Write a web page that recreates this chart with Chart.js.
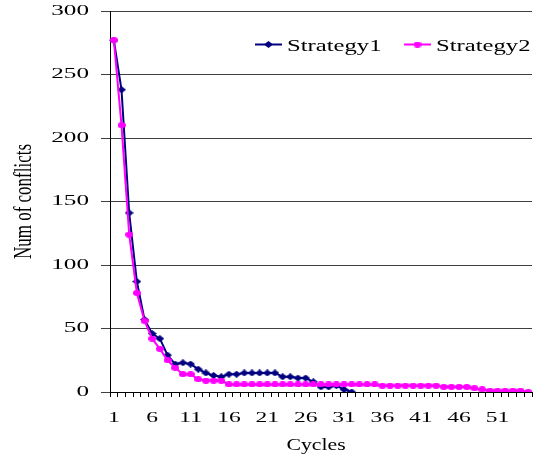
<!DOCTYPE html>
<html>
<head>
<meta charset="utf-8">
<script src="https://cdn.jsdelivr.net/npm/chart.js@4.4.1/dist/chart.umd.min.js"></script>
<style>
  html, body { margin: 0; padding: 0; background: #fff; }
  #wrap { width: 545px; height: 458px; }
</style>
</head>
<body>
<div id="wrap"><canvas id="chart"></canvas></div>
<script>
// x categories (cycles)
const cycles = ['1','2','3','4','5','6','7','8','9','10','11','12','13','14','15','16','17','18','19','20',
  '21','22','23','24','25','26','27','28','29','30','31','32','33','34','35','36','37','38','39','40',
  '41','42','43','44','45','46','47','48','49','50','51','52','53','54','55'];

// Num of conflicts per cycle
const strategy1 = [277, 238, 141, 87, 57, 46, 42, 29, 22, 23, 22, 18, 15, 13, 12, 14, 14, 15, 15, 15,
  15, 15, 12, 12, 11, 11, 8, 4, 4, 5, 2, 0];
const strategy2 = [277, 210, 124, 78, 56, 42, 34, 25, 19, 14, 14, 10, 9, 9, 9, 6, 6, 6, 6, 6,
  6, 6, 6, 6, 6, 6, 6, 6, 6, 6, 6, 6, 6, 6, 6, 5, 5, 5, 5, 5,
  5, 5, 5, 4, 4, 4, 4, 3, 2, 1, 1, 1, 1, 1, 0];

const yTicks = [0, 50, 100, 150, 200, 250, 300];

const serif = "'Liberation Serif', 'Times New Roman', serif";
const navy = '#000080';
const magenta = '#FF00FF';

// the source picture is stretched sideways, so markers are flat ovals / diamonds
function ovalMarker(w, h, color) {
  const c = document.createElement('canvas');
  c.width = w; c.height = h;
  const g = c.getContext('2d');
  g.fillStyle = color;
  g.beginPath();
  g.ellipse(w / 2, h / 2, w / 2, h / 2, 0, 0, Math.PI * 2);
  g.fill();
  return c;
}
function diamondMarker(w, h, color) {
  const c = document.createElement('canvas');
  c.width = w; c.height = h;
  const g = c.getContext('2d');
  g.fillStyle = color;
  g.beginPath();
  g.moveTo(w / 2, 0);
  g.lineTo(w, h / 2);
  g.lineTo(w / 2, h);
  g.lineTo(0, h / 2);
  g.closePath();
  g.fill();
  return c;
}
const navyMark = diamondMarker(9, 7, navy);
const pinkMark = ovalMarker(8, 6, magenta);

// stretched text: every fillText gets scaled around its anchor point
function stretchText(ctx) {
  const orig = ctx.fillText;
  ctx.textScaleX = 1;
  ctx.textScaleY = 1;
  ctx.fillText = function (text, x, y) {
    const sx = this.textScaleX, sy = this.textScaleY;
    if (sx === 1 && sy === 1) return orig.call(this, text, x, y);
    this.save();
    this.translate(x, y);
    this.scale(sx, sy);
    orig.call(this, text, 0, 0);
    this.restore();
  };
}

const stretchPlugin = {
  id: 'stretch',
  beforeInit(chart) { stretchText(chart.ctx); },
  beforeDraw(chart) {
    chart.ctx.textScaleX = 1.68;
    chart.ctx.textScaleY = 1;
  }
};

// axis titles + legend inside the plot
const decorPlugin = {
  id: 'decor',
  afterDraw(chart) {
    const ctx = chart.ctx;
    const area = chart.chartArea;

    // y title (rotated, thickened across)
    ctx.save();
    ctx.textScaleX = 1;
    ctx.textScaleY = 1.5;
    ctx.fillStyle = '#000';
    ctx.font = '17px ' + serif;
    ctx.textAlign = 'center';
    ctx.textBaseline = 'middle';
    ctx.translate(24, (area.top + area.bottom) / 2);
    ctx.rotate(-Math.PI / 2);
    ctx.fillText('Num of conflicts', 0, 0);
    ctx.restore();

    // x title
    ctx.save();
    ctx.textScaleX = 1.28;
    ctx.textScaleY = 1;
    ctx.fillStyle = '#000';
    ctx.font = '17px ' + serif;
    ctx.textAlign = 'center';
    ctx.textBaseline = 'middle';
    ctx.fillText('Cycles', 316, 446);
    ctx.restore();

    // legend
    const items = [
      { ds: chart.data.datasets[0], x: 255 },
      { ds: chart.data.datasets[1], x: 404 }
    ];
    items.forEach(it => {
      const mark = it.ds.pointStyle;
      ctx.save();
      ctx.strokeStyle = it.ds.borderColor;
      ctx.lineWidth = 2;
      ctx.beginPath();
      ctx.moveTo(it.x, 44.5);
      ctx.lineTo(it.x + 27, 44.5);
      ctx.stroke();
      ctx.drawImage(mark, it.x + 13.5 - mark.width / 2, 44.5 - mark.height / 2);

      ctx.textScaleX = 1.45;
      ctx.textScaleY = 1;
      ctx.fillStyle = '#000';
      ctx.font = '17px ' + serif;
      ctx.textAlign = 'left';
      ctx.textBaseline = 'alphabetic';
      ctx.fillText(it.ds.label, it.x + 32, 51);
      ctx.restore();
    });
    ctx.textScaleX = 1;
    ctx.textScaleY = 1;
  }
};

new Chart(document.getElementById('chart'), {
  type: 'line',
  data: {
    labels: cycles,
    datasets: [
      {
        label: 'Strategy1',
        data: strategy1,
        borderColor: navy,
        backgroundColor: navy,
        borderWidth: 2,
        pointStyle: navyMark,
        pointRadius: 4,
        tension: 0,
        order: 1
      },
      {
        label: 'Strategy2',
        data: strategy2,
        borderColor: magenta,
        backgroundColor: magenta,
        borderWidth: 2,
        pointStyle: pinkMark,
        pointRadius: 4,
        tension: 0,
        order: 0
      }
    ]
  },
  options: {
    responsive: true,
    maintainAspectRatio: false,
    animation: false,
    layout: { padding: { top: 11, right: 13, left: 0, bottom: 0 } },
    plugins: {
      legend: { display: false },
      tooltip: { enabled: false }
    },
    scales: {
      x: {
        type: 'category',
        offset: true,
        grid: {
          offset: true,
          drawOnChartArea: false,
          drawTicks: true,
          tickLength: 5,
          color: '#000'
        },
        border: { color: '#000', width: 1 },
        ticks: {
          autoSkip: false,
          maxRotation: 0,
          padding: 13,
          color: '#000',
          font: { family: serif, size: 14 },
          callback: (v, i) => (i % 5 === 0 ? cycles[i] : '')
        },
        afterFit: s => {
          s.height = 66;
          s.paddingLeft = 0;
          s.paddingRight = 0;
        }
      },
      y: {
        min: 0,
        max: 300,
        afterBuildTicks: s => { s.ticks = yTicks.map(v => ({ value: v })); },
        grid: {
          color: '#404040',
          lineWidth: 1,
          drawTicks: true,
          tickLength: 9
        },
        border: { color: '#000', width: 1 },
        ticks: {
          padding: 12,
          color: '#000',
          font: { family: serif, size: 15 }
        },
        afterFit: s => {
          s.width = 110;
          s.paddingTop = 0;
          s.paddingBottom = 0;
        }
      }
    }
  },
  plugins: [stretchPlugin, decorPlugin]
});
</script>
</body>
</html>
